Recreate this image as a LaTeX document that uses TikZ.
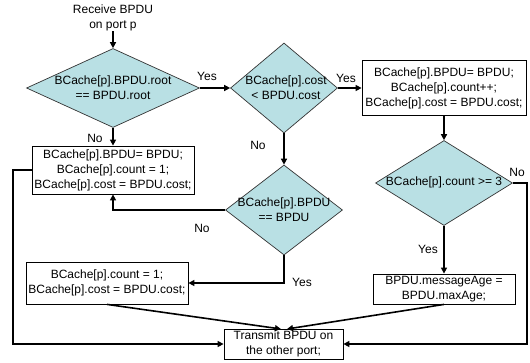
\documentclass[tikz,border=0pt]{standalone}
\usepackage{fontspec}
\setmainfont{Liberation Sans}
\usetikzlibrary{shapes.geometric,arrows.meta}
\definecolor{dfill}{RGB}{185,224,228}
\tikzset{
  dec/.style={diamond, draw=black!80, line width=0.7pt, fill=dfill, inner sep=0pt},
  txt/.style={align=center, font=\fontsize{12}{15}\selectfont, inner sep=0pt},
  boxn/.style={draw, line width=0.8pt, align=center, font=\fontsize{12}{15}\selectfont, inner sep=1pt},
  conn/.style={line width=1.6pt, -{Triangle[length=6pt,width=6pt]}},
  line/.style={line width=1.6pt},
  lab/.style={font=\fontsize{12}{14}\selectfont, inner sep=0pt}
}
\begin{document}
\begin{tikzpicture}[x=1pt,y=-1pt]
\useasboundingbox (0,0) rectangle (530,362);
% start text
\node[txt] (start) at (113,18) {Receive BPDU\\on port p};
% diamonds
\node[dec, minimum width=173pt, minimum height=79pt] (d1) at (113,88) {};
\node[txt] (d1t) at (113,88) {BCache[p].BPDU.root\\== BPDU.root};
\node[dec, minimum width=107pt, minimum height=90pt] (d2) at (284,88) {};
\node[txt] (d2t) at (286,88) {BCache[p].cost\\< BPDU.cost};
\node[dec, minimum width=117pt, minimum height=90pt] (d3) at (284,210) {};
\node[txt] (d3t) at (284,210) {BCache[p].BPDU\\== BPDU};
\node[dec, minimum width=137pt, minimum height=85pt] (d4) at (444,183) {};
\node[txt] (d4t) at (444,182) {BCache[p].count >= 3};
% boxes
\node[boxn, minimum width=162pt, minimum height=48pt] (b2) at (113,170) {BCache[p].BPDU= BPDU;\\BCache[p].count = 1;\\BCache[p].cost = BPDU.cost;};
\node[boxn, minimum width=164pt, minimum height=55pt] (b3) at (444,88) {BCache[p].BPDU= BPDU;\\BCache[p].count++;\\BCache[p].cost = BPDU.cost;};
\node[boxn, minimum width=162pt, minimum height=42pt] (b4) at (107,283) {BCache[p].count = 1;\\BCache[p].cost = BPDU.cost;};
\node[boxn, minimum width=142pt, minimum height=30pt] (b5) at (444,289) {BPDU.messageAge =\\BPDU.maxAge;};
\node[boxn, minimum width=119pt, minimum height=30pt] (tx) at (283.5,344) {Transmit BPDU on\\the other port;};
% connectors
\draw[conn] (start.south) -- (d1.north);
\draw[conn] (d1.east) -- (d2.west);
\draw[conn] (d2.east) -- (b3.west);
\draw[conn] (d1.south) -- (b2.north);
\draw[conn] (d2.south) -- (d3.north);
\draw[conn] (b3.south) -- (d4.north);
\draw[conn] (d4.south) -- (b5.north);
\draw[conn] (d3.west) -| (b2.south);
\draw[conn] (d3.south) |- (b4.east);
\coordinate (lc) at (13,170);
\coordinate (rc) at (527,183);
\draw[conn] (b2.west) -- (lc) |- (tx.west);
\draw[conn] (d4.east) -- (rc) |- (tx.east);
\draw[conn] (b4.south) ++(0,0) coordinate (b4s) -- (281,329);
\draw[conn] (b5.south) -- (287,329);
% labels
\node[lab] (y1) at (207,76) {Yes};
\node[lab] (y2) at (346,78) {Yes};
\node[lab] (n1) at (95,138) {No};
\node[lab] (n2) at (258,145) {No};
\node[lab] (n3) at (202,228) {No};
\node[lab] (y3) at (302,282) {Yes};
\node[lab] (y4) at (428,249) {Yes};
\node[lab] (n4) at (517,172) {No};
\end{tikzpicture}
\end{document}
